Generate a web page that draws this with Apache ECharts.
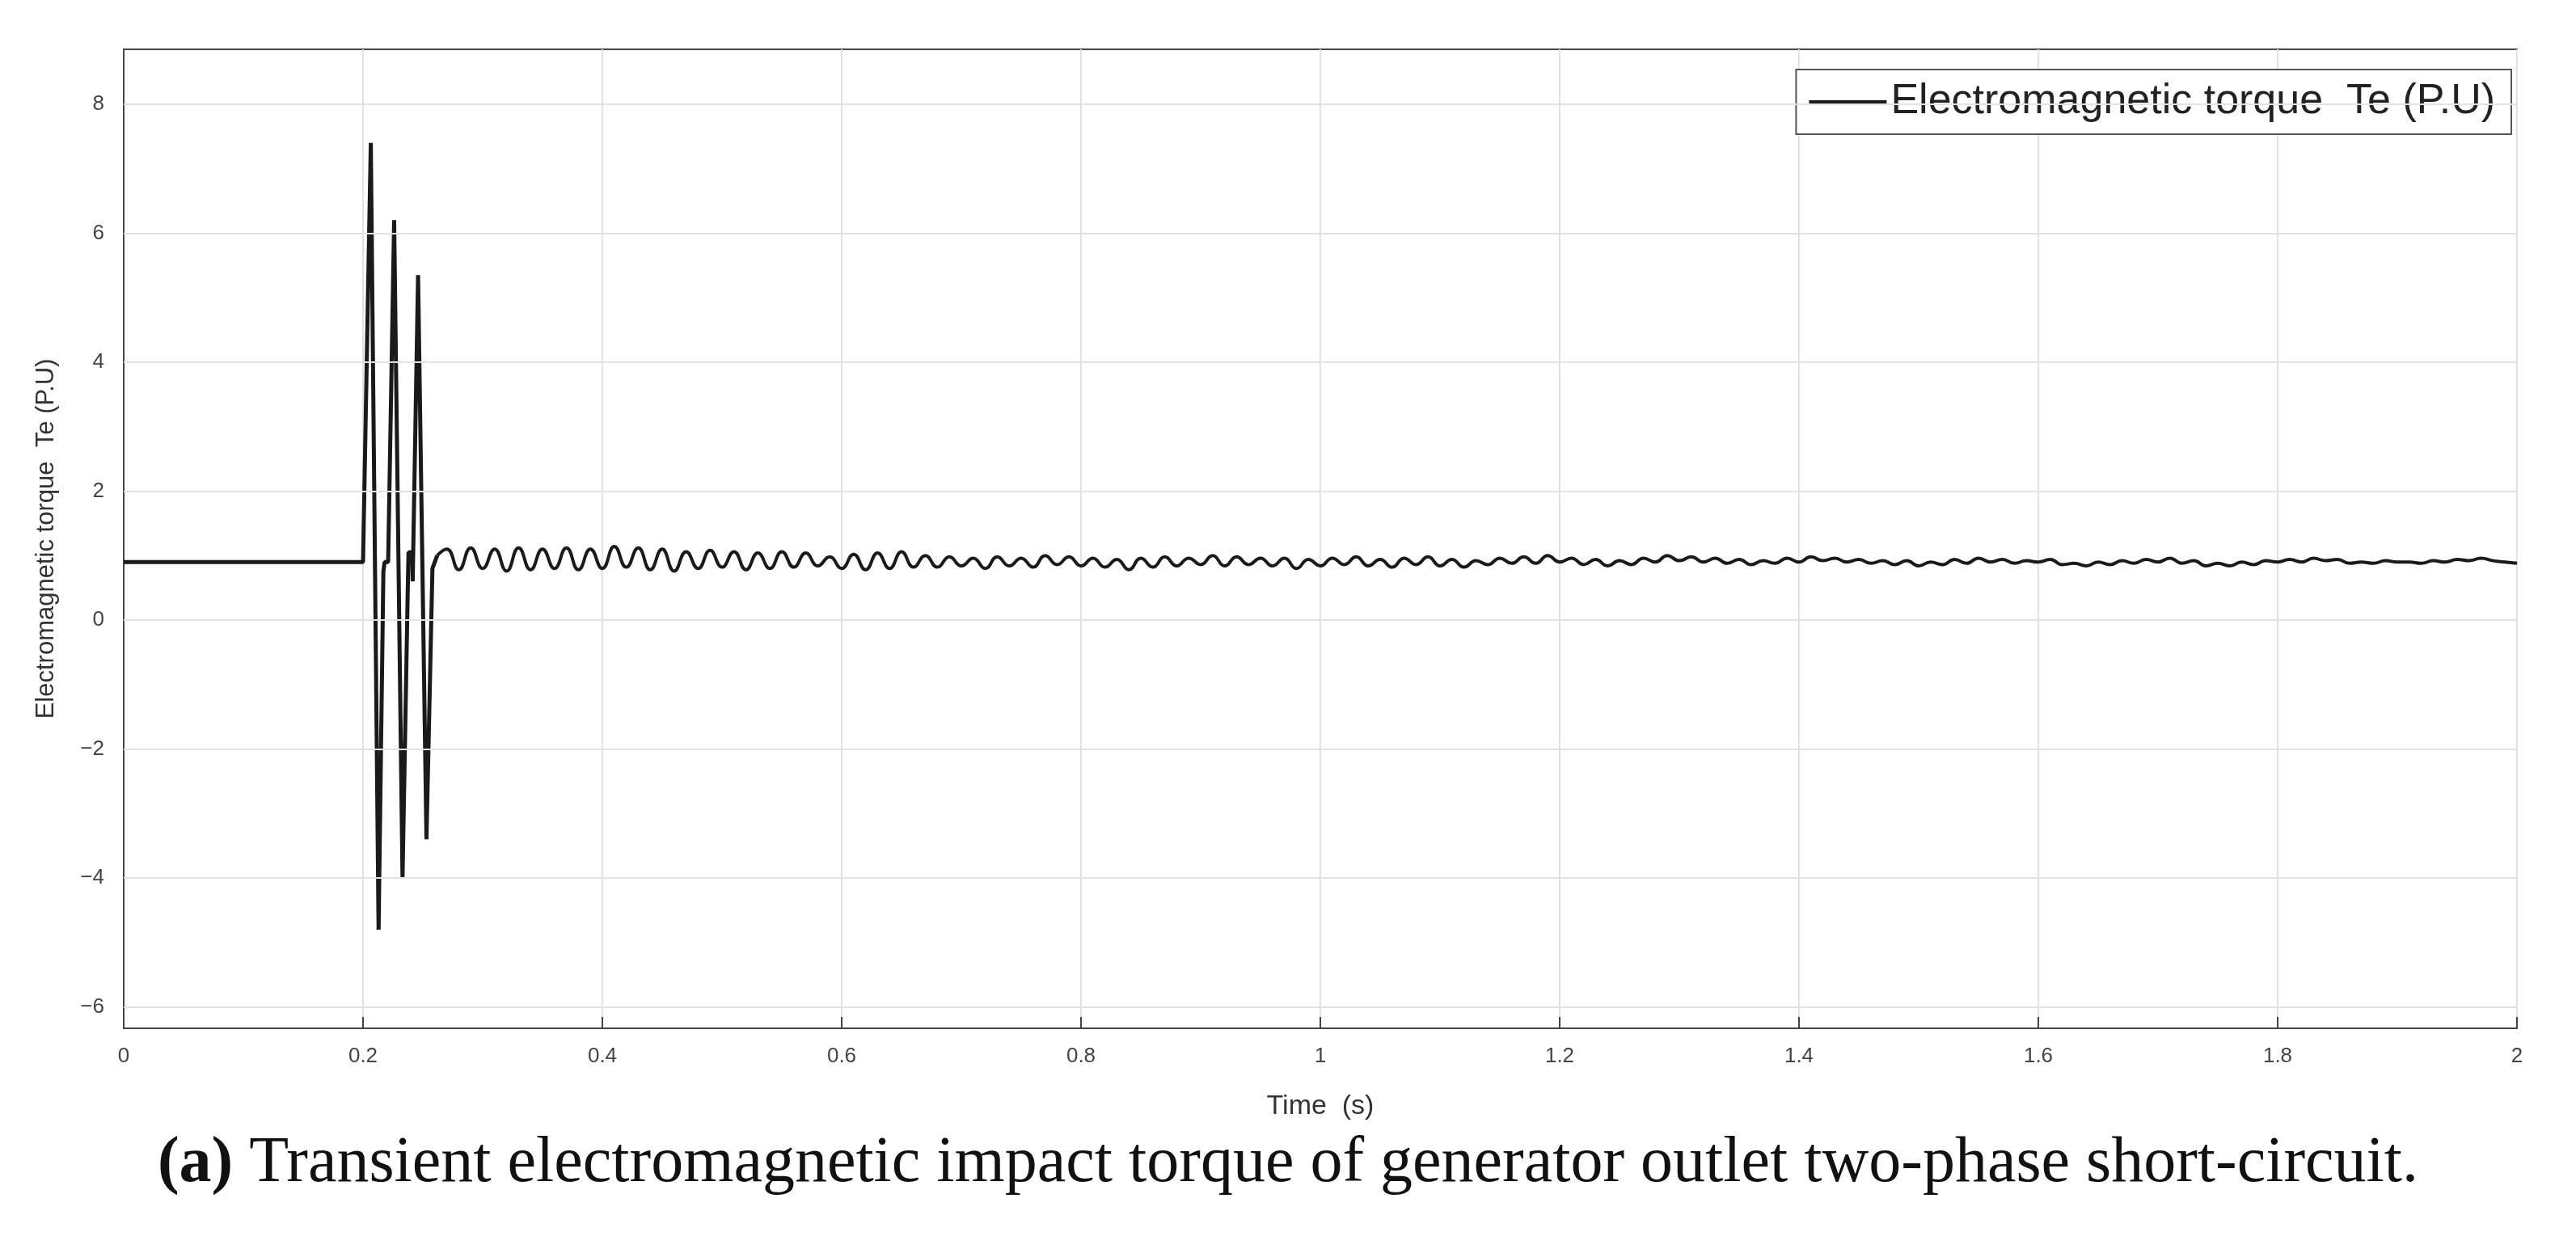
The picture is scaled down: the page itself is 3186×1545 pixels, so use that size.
<!DOCTYPE html>
<html><head><meta charset="utf-8">
<script src="https://cdn.jsdelivr.net/npm/echarts@6/dist/echarts.min.js"></script>
<style>html,body{margin:0;background:#fff}#c{width:3186px;height:1545px}</style>
</head><body><div id="c"></div>
<script>
const seriesName = "Electromagnetic torque  Te (P.U)";
const yTicks = [-6,-4,-2,0,2,4,6,8];
const xTicks = [0,0.2,0.4,0.6,0.8,1,1.2,1.4,1.6,1.8,2];
// pre-fault and fault transient [time, value]
const transientT = [0,0.2,0.201,0.2065,0.213,0.217,0.218,0.221,0.226,0.233,0.2375,0.238,0.241,0.2415,0.246,0.253,0.258,0.262];
const transientV = [0.9,0.9,0.9,7.4,-4.8,0.75,0.9,0.9,6.2,-4.0,0.6,1.05,1.05,0.6,5.35,-3.4,0.8,1.0];
// post-fault oscillation extrema, sampled every 0.01 s starting at 0.27 s
const oscStart = 0.27, oscStep = 0.01;
const oscV = [
1.10,0.78,1.12,0.80,1.10,0.76,1.12,0.78,1.10,0.80,1.12,0.78,1.10,0.80,1.14,0.82,1.12,0.78,1.10,0.76,
1.06,0.80,1.08,0.82,1.06,0.78,1.04,0.80,1.06,0.82,1.04,0.84,0.98,0.80,1.02,0.78,1.04,0.80,1.06,0.82,
1.00,0.82,0.98,0.84,0.96,0.80,0.98,0.84,0.96,0.82,1.00,0.86,0.98,0.84,0.96,0.82,0.94,0.78,0.96,0.82,
0.98,0.84,0.96,0.86,1.00,0.84,0.98,0.86,0.96,0.84,0.96,0.80,0.94,0.84,0.96,0.86,0.98,0.84,0.94,0.82,
0.96,0.86,0.98,0.84,0.94,0.82,0.92,0.86,0.96,0.88,0.98,0.88,1.00,0.90,0.96,0.86,0.94,0.84,0.92,0.86,
0.96,0.90,1.00,0.92,0.98,0.90,0.96,0.88,0.94,0.86,0.92,0.88,0.96,0.90,0.98,0.92,0.96,0.90,0.94,0.88,
0.92,0.86,0.92,0.84,0.90,0.86,0.94,0.88,0.96,0.90,0.94,0.88,0.92,0.90,0.94,0.86,0.88,0.84,0.90,0.86,
0.92,0.88,0.94,0.90,0.96,0.88,0.92,0.84,0.88,0.84,0.90,0.86,0.92,0.90,0.94,0.90,0.96,0.92,0.94,0.88,
0.90,0.88,0.92,0.90,0.90,0.88,0.92,0.90,0.94,0.92,0.96,0.92,0.90,0.88];

const d1 = transientT.map((t,i)=>[t,transientV[i]]);
const d2 = [[transientT[transientT.length-1], transientV[transientV.length-1]]]
  .concat(oscV.map((v,i)=>[+(oscStart+i*oscStep).toFixed(3), v]));

const font = "Liberation Sans";
const chart = echarts.init(document.getElementById('c'));
chart.setOption({
  animation:false,
  backgroundColor:'#fff',
  grid:{left:153,right:73,top:61,bottom:273,show:true,borderColor:'#444',borderWidth:2,containLabel:false},
  title:{
    text:'{b|(a)} Transient electromagnetic impact torque of generator outlet two-phase short-circuit.',
    left:'center', top:1395,
    textStyle:{fontFamily:'Liberation Serif',fontSize:80,fontWeight:'normal',color:'#111',
      rich:{b:{fontFamily:'Liberation Serif',fontSize:80,fontWeight:'bold',color:'#111'}}}
  },
  legend:{
    data:[seriesName], right:80, top:86, orient:'horizontal',
    backgroundColor:'#fff', borderColor:'#555', borderWidth:2, padding:[14,20,14,16],
    itemWidth:96, itemHeight:4, itemGap:10,
    textStyle:{fontFamily:font,fontSize:52,color:'#222'},
    icon:'rect'
  },
  xAxis:{
    type:'value', min:0, max:2, interval:0.2,
    name:'Time  (s)', nameLocation:'middle', nameGap:80,
    nameTextStyle:{fontFamily:font,fontSize:34,color:'#333'},
    axisLine:{show:true,onZero:false,lineStyle:{color:'#444',width:2}},
    axisTick:{show:true,inside:true,length:14,lineStyle:{color:'#444',width:2}},
    axisLabel:{fontFamily:font,fontSize:26,color:'#444',margin:22,formatter:v=>String(+v.toFixed(1))},
    splitLine:{show:true,lineStyle:{color:'#e2e2e2',width:2}}
  },
  yAxis:{
    type:'value', min:-6.33, max:8.85,
    name:seriesName, nameLocation:'middle', nameGap:80,
    nameTextStyle:{fontFamily:font,fontSize:31,color:'#333'},
    axisLine:{show:true,onZero:false,lineStyle:{color:'#444',width:2}},
    axisTick:{show:true,inside:true,length:14,customValues:yTicks,lineStyle:{color:'#444',width:2}},
    axisLabel:{fontFamily:font,fontSize:26,color:'#444',margin:24,customValues:yTicks,
      formatter:v=>v<0?'\u2212'+(-v):String(v)},
    splitLine:{show:false}
  },
  series:[
    {name:seriesName,type:'line',data:d1,showSymbol:false,lineStyle:{color:'#1a1a1a',width:5},itemStyle:{color:'#1a1a1a'},
     markLine:{silent:true,symbol:'none',label:{show:false},lineStyle:{color:'#e2e2e2',width:2,type:'solid'},
       data:yTicks.map(v=>({yAxis:v}))}},
    {name:'osc',type:'line',data:d2,showSymbol:false,smooth:0.5,lineStyle:{color:'#1a1a1a',width:4}}
  ]
});
</script></body></html>
